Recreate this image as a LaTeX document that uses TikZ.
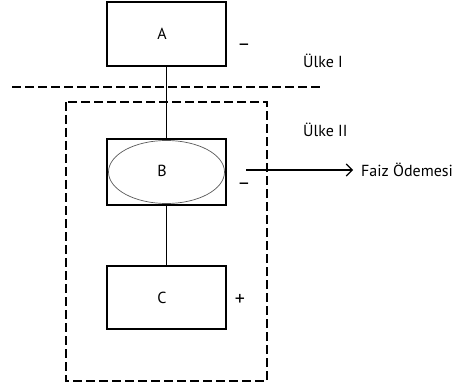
\documentclass[tikz,border=0pt]{standalone}
\usepackage{fontspec}
\setmainfont{PT Sans}
\usetikzlibrary{arrows.meta,shapes.geometric}
\begin{document}
\begin{tikzpicture}[x=1pt,y=-1pt,
  box/.style={draw,line width=1.3pt,minimum width=119pt,minimum height=64pt,inner sep=0pt},
  lbl/.style={font=\fontsize{16}{18}\selectfont,inner sep=0pt},
  sgn/.style={font=\fontsize{20}{22}\selectfont,inner sep=0pt},
  dsh/.style={line width=1.3pt,dash pattern=on 9pt off 4pt},
  conn/.style={line width=1.3pt}]
\useasboundingbox (0,0) rectangle (466,385);
\node[box] (A) at (166.5,34) {};
\node[lbl] (Atx) at (162,34) {A};
\node[sgn] (Am) at (244,47) {\textendash};
\node[lbl,anchor=west] (U1) at (303,61) {Ülke I};
\draw[dsh] (12,87) coordinate (d1) -- (322,87) coordinate (d2);
\draw[dsh] (66,102) rectangle (267,381);
\node[lbl,anchor=west] (U2) at (303,130) {Ülke II};
\node[box,minimum height=66pt] (B) at (166.5,172) {};
\node[draw,ellipse,line width=0.7pt,gray!70!black,minimum width=116pt,minimum height=63pt,inner sep=0pt] (Be) at (166.5,172) {};
\node[lbl] (Btx) at (162,171) {B};
\node[sgn] (Bm) at (244,186) {\textendash};
\coordinate (arrS) at (246,170);
\node[lbl,anchor=west] (F) at (361,170) {Faiz Ödemesi};
\draw[conn,line width=1.1pt,-{Straight Barb[length=6pt,width=12pt]}] (arrS) -- ([xshift=-8pt]F.west);
\node[box,minimum height=63pt] (C) at (166.5,297.5) {};
\node[lbl] (Ctx) at (162,298) {C};
\node[sgn] (Cp) at (240,300) {+};
\draw[conn] (A.south) -- (B.north);
\draw[conn] (B.south) -- (C.north);
\end{tikzpicture}
\end{document}
